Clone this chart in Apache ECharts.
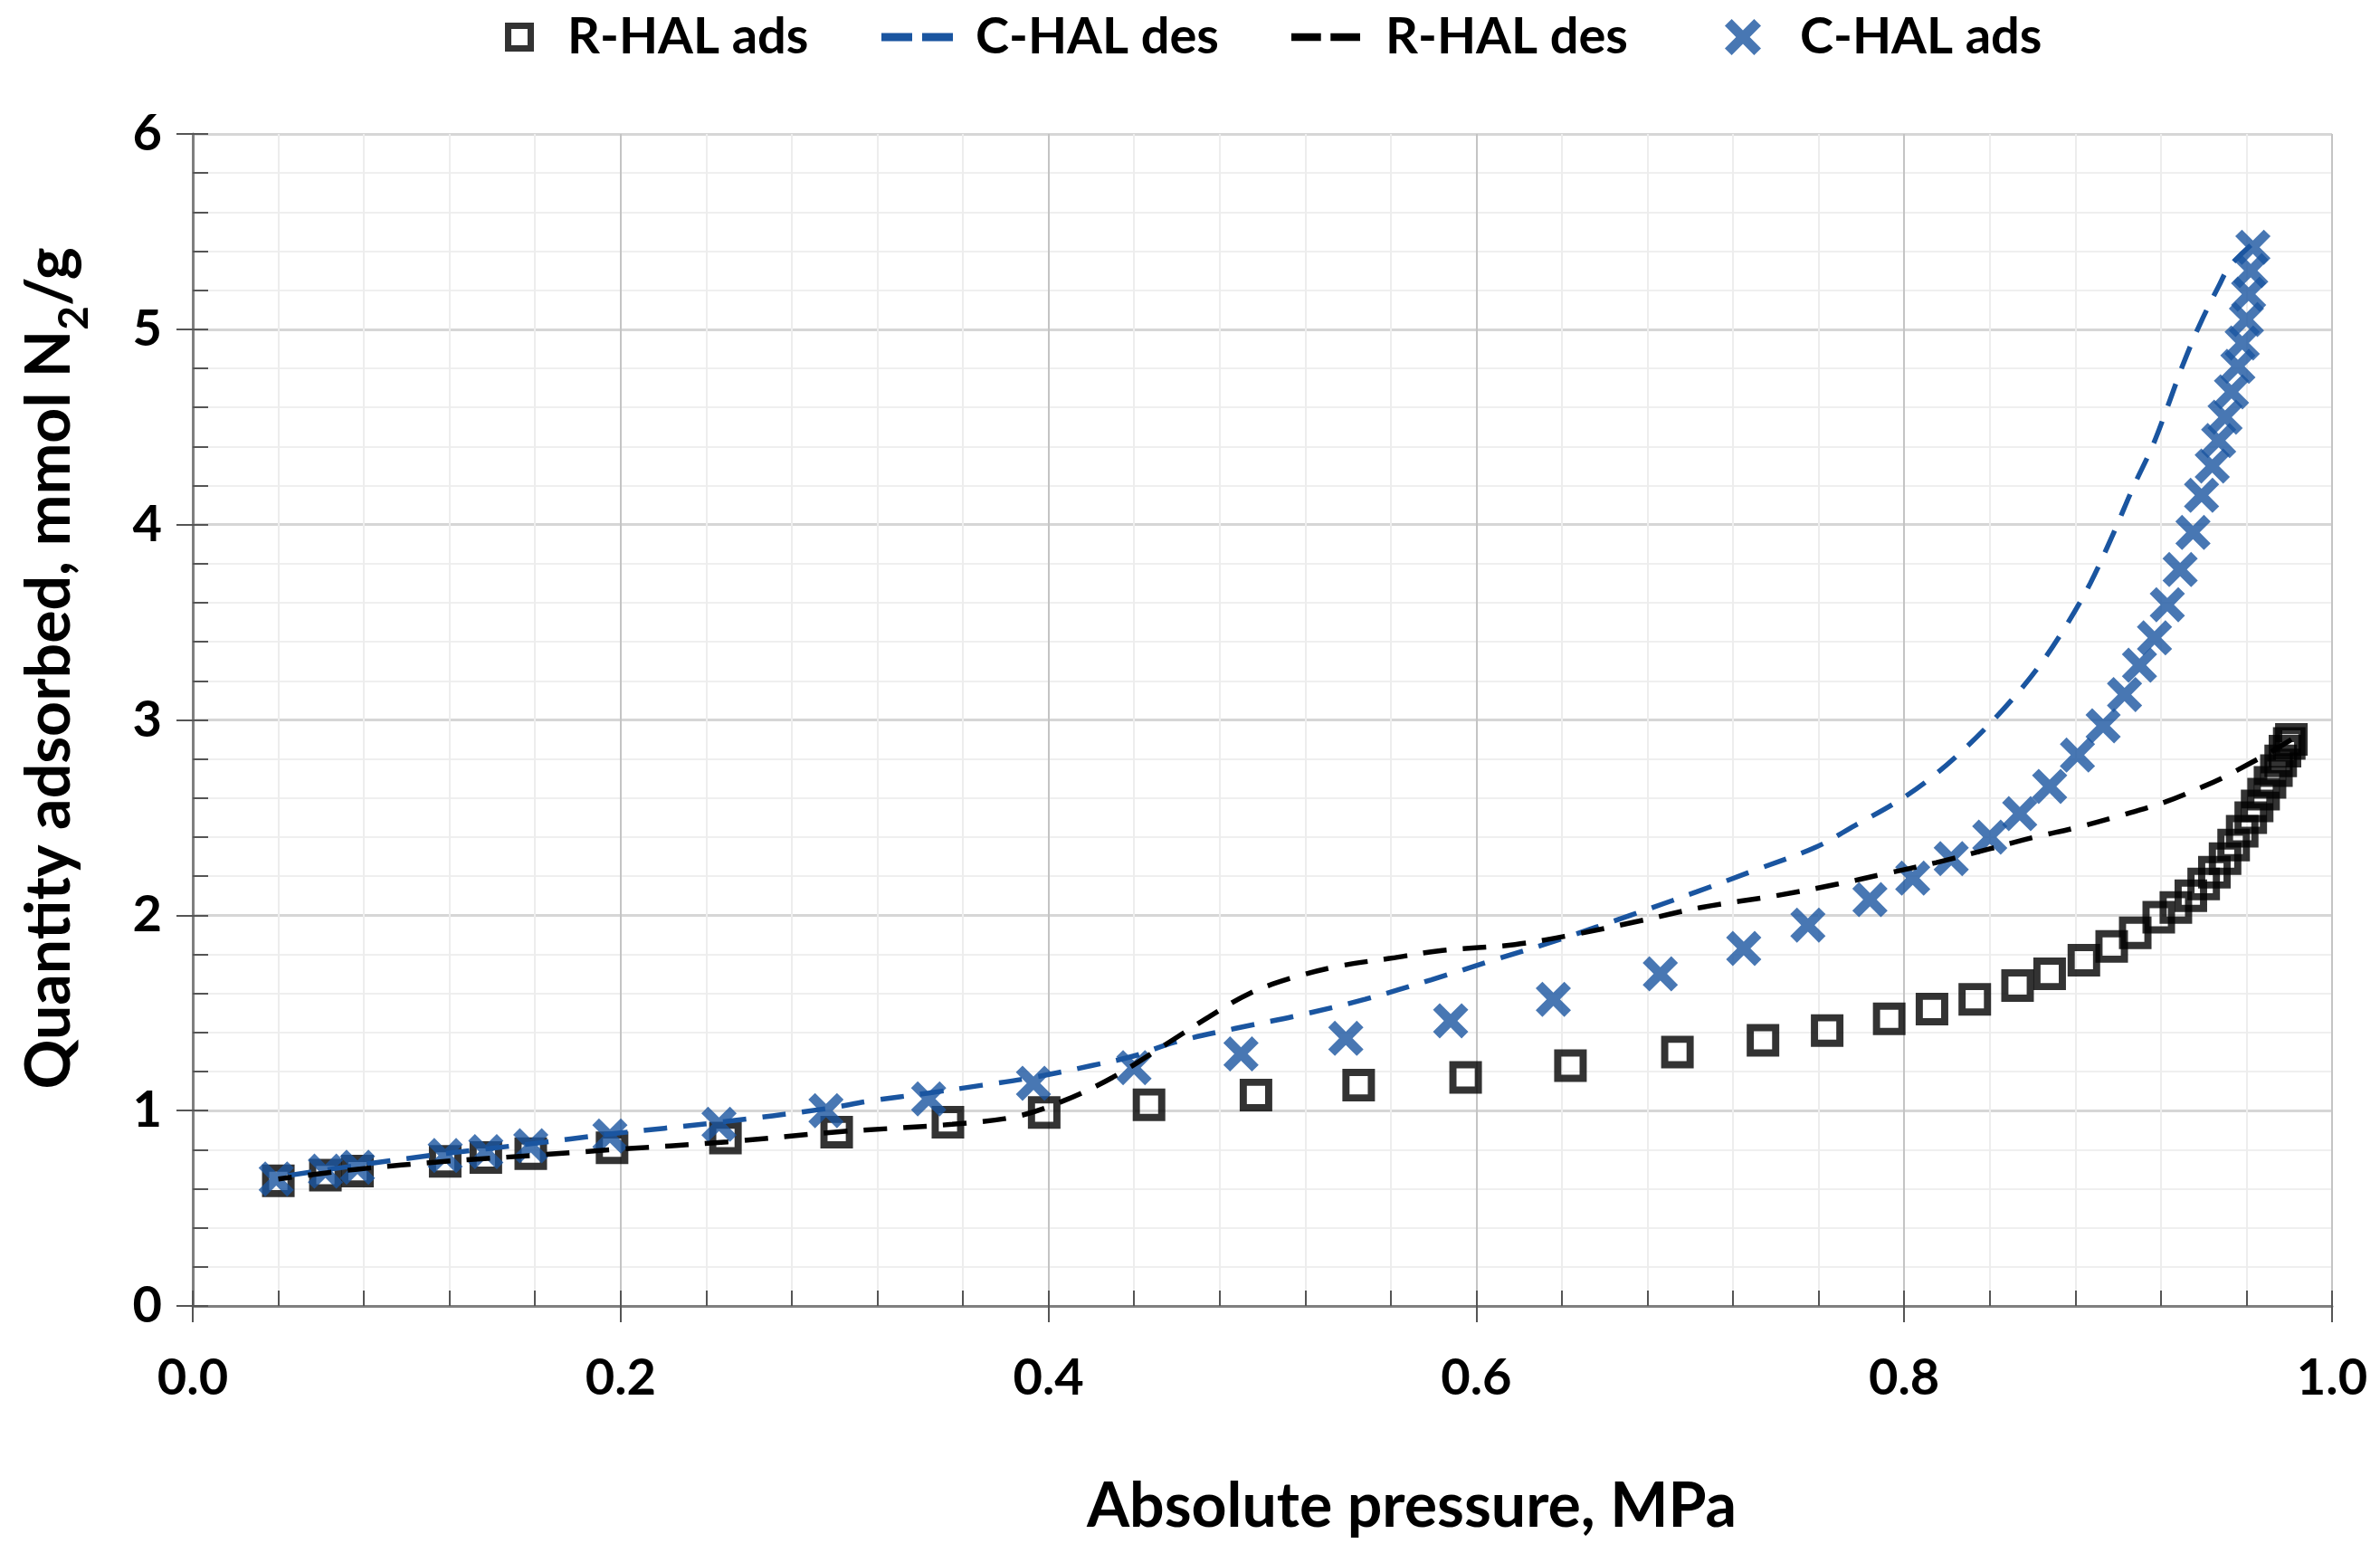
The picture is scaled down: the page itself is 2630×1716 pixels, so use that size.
<!DOCTYPE html>
<html>
<head>
<meta charset="utf-8">
<script src="https://cdn.jsdelivr.net/npm/echarts@6/dist/echarts.min.js"></script>
<style>
html,body{margin:0;padding:0;background:#fff;}
#chart{width:2630px;height:1716px;}
</style>
</head>
<body>
<div id="chart"></div>
<script>
const seriesNames = ['R-HAL ads', 'C-HAL des', 'R-HAL des', 'C-HAL ads'];
const xTicks = { min: 0, max: 1, interval: 0.2 };
const yTicks = { min: 0, max: 6, interval: 1 };

const rHalAds = [[0.040,0.64],[0.062,0.67],[0.077,0.69],[0.118,0.74],[0.137,0.76],[0.158,0.78],[0.196,0.81],[0.249,0.86],[0.301,0.89],[0.353,0.94],[0.398,0.99],[0.447,1.03],[0.497,1.08],[0.545,1.13],[0.595,1.17],[0.644,1.23],[0.694,1.30],[0.734,1.36],[0.764,1.41],[0.793,1.47],[0.813,1.52],[0.833,1.57],[0.853,1.64],[0.868,1.70],[0.884,1.77],[0.897,1.84],[0.908,1.91],[0.919,1.99],[0.927,2.04],[0.934,2.10],[0.940,2.16],[0.945,2.22],[0.950,2.29],[0.954,2.36],[0.958,2.43],[0.962,2.50],[0.965,2.56],[0.968,2.62],[0.971,2.68],[0.974,2.74],[0.976,2.79],[0.978,2.84],[0.980,2.88],[0.981,2.90]];

const cHalAds = [[0.039,0.65],[0.062,0.69],[0.077,0.71],[0.118,0.77],[0.137,0.79],[0.158,0.82],[0.195,0.87],[0.246,0.93],[0.296,1.00],[0.344,1.06],[0.393,1.14],[0.440,1.22],[0.490,1.29],[0.539,1.37],[0.588,1.46],[0.636,1.57],[0.686,1.70],[0.725,1.83],[0.755,1.95],[0.784,2.08],[0.804,2.19],[0.822,2.29],[0.840,2.40],[0.854,2.52],[0.868,2.66],[0.881,2.82],[0.893,2.97],[0.903,3.13],[0.910,3.28],[0.917,3.42],[0.923,3.59],[0.929,3.77],[0.935,3.96],[0.939,4.15],[0.944,4.30],[0.947,4.43],[0.950,4.55],[0.953,4.68],[0.956,4.81],[0.958,4.93],[0.960,5.05],[0.961,5.18],[0.962,5.30],[0.963,5.42]];

const cHalDes = [[0.962,5.43],[0.952,5.32],[0.947,5.22],[0.938,5.02],[0.930,4.81],[0.923,4.60],[0.916,4.40],[0.907,4.19],[0.898,3.96],[0.887,3.70],[0.875,3.47],[0.862,3.26],[0.846,3.05],[0.828,2.85],[0.811,2.69],[0.795,2.57],[0.777,2.46],[0.759,2.35],[0.730,2.23],[0.703,2.12],[0.672,2.00],[0.640,1.88],[0.608,1.77],[0.579,1.67],[0.548,1.57],[0.518,1.49],[0.487,1.42],[0.459,1.35],[0.440,1.28],[0.420,1.23],[0.393,1.17],[0.369,1.13],[0.344,1.09],[0.317,1.05],[0.296,1.01],[0.246,0.94],[0.195,0.88],[0.158,0.83],[0.118,0.78],[0.077,0.72],[0.040,0.66]];

const rHalDes = [[0.981,2.90],[0.972,2.84],[0.962,2.78],[0.950,2.71],[0.940,2.66],[0.922,2.58],[0.901,2.51],[0.881,2.45],[0.861,2.40],[0.840,2.34],[0.815,2.27],[0.790,2.21],[0.769,2.16],[0.740,2.10],[0.705,2.04],[0.676,1.97],[0.645,1.90],[0.618,1.85],[0.584,1.82],[0.560,1.78],[0.536,1.74],[0.514,1.68],[0.494,1.60],[0.475,1.48],[0.455,1.34],[0.430,1.17],[0.407,1.05],[0.385,0.97],[0.355,0.93],[0.300,0.89],[0.250,0.84],[0.196,0.80],[0.158,0.77],[0.118,0.74],[0.077,0.70],[0.040,0.65]];

const BLUE = '#1a55a0';
const FONT = 'Lato';
const crossPath = 'path://M0,19 L19,0 L50,31 L81,0 L100,19 L69,50 L100,81 L81,100 L50,69 L19,100 L0,81 L31,50 Z';
const squarePath = 'path://M0,0 L100,0 L100,100 L0,100 Z M22,22 L22,78 L78,78 L78,22 Z';
const dashPath = 'path://M0,0 L34,0 L34,9 L0,9 Z M45,0 L79,0 L79,9 L45,9 Z';

const chart = echarts.init(document.getElementById('chart'), null, {renderer: 'canvas'});

const baseX = {type: 'value', min: xTicks.min, max: xTicks.max, interval: xTicks.interval, position: 'bottom'};
const baseY = {type: 'value', min: yTicks.min, max: yTicks.max, interval: yTicks.interval, position: 'left'};
const legendText = {fontFamily: FONT, fontWeight: 'bold', fontSize: 56, color: '#000'};

function legendItem(name, icon, left, w, h, pad) {
  return {
    left: left, top: 8, itemWidth: w, itemHeight: h, orient: 'horizontal',
    selectedMode: false,
    textStyle: Object.assign({}, legendText, {padding: [0, 0, 0, pad]}),
    data: [{name: name, icon: icon}]
  };
}

chart.setOption({
  animation: false,
  backgroundColor: '#ffffff',
  textStyle: {fontFamily: FONT},
  grid: {left: 213, right: 53, top: 148, bottom: 273},
  legend: [
    legendItem(seriesNames[0], squarePath, 553, 32, 32, 32),
    legendItem(seriesNames[1], dashPath, 969, 79, 34, 20),
    legendItem(seriesNames[2], dashPath, 1422, 76, 34, 23),
    legendItem(seriesNames[3], crossPath, 1901, 40, 40, 38)
  ],
  xAxis: [
    Object.assign({}, baseX, {
      name: 'Absolute pressure, MPa',
      nameLocation: 'middle', nameGap: 188, nameMoveOverlap: false,
      nameTextStyle: {fontFamily: FONT, fontWeight: 'bold', fontSize: 68, color: '#000', padding: [0, 0, 0, 330]},
      axisLine: {show: true, lineStyle: {color: '#7f7f7f', width: 3}},
      axisTick: {show: true, inside: false, length: 18, lineStyle: {color: '#555', width: 2}},
      axisLabel: {margin: 52, fontFamily: FONT, fontWeight: 'bold', fontSize: 56, color: '#000', formatter: v => v.toFixed(1)},
      splitLine: {show: true, lineStyle: {color: '#c4c4c4', width: 2}},
      minorSplitLine: {show: true, lineStyle: {color: '#ededed', width: 2}},
      minorTick: {show: false, splitNumber: 5}
    }),
    Object.assign({}, baseX, {
      axisLine: {show: false},
      axisLabel: {show: false},
      splitLine: {show: false},
      axisTick: {show: true, inside: true, length: 17, lineStyle: {color: '#555', width: 2}},
      minorTick: {show: true, splitNumber: 5, length: 17, lineStyle: {color: '#555', width: 2}}
    })
  ],
  yAxis: [
    Object.assign({}, baseY, {
      name: '{a|Quantity adsorbed, mmol N}{s|2}{a|/g}',
      nameLocation: 'middle', nameGap: 124, nameMoveOverlap: false,
      nameTextStyle: {
        fontFamily: FONT, fontWeight: 'bold', fontSize: 68, color: '#000', padding: [0, 0, 0, 114],
        rich: {
          a: {fontFamily: FONT, fontWeight: 'bold', fontSize: 68, color: '#000'},
          s: {fontFamily: FONT, fontWeight: 'bold', fontSize: 46, color: '#000', verticalAlign: 'bottom', padding: [0, 0, -16, 0]}
        }
      },
      axisLine: {show: true, lineStyle: {color: '#7f7f7f', width: 3}},
      axisTick: {show: true, inside: false, length: 18, lineStyle: {color: '#555', width: 2}},
      axisLabel: {margin: 34, fontFamily: FONT, fontWeight: 'bold', fontSize: 56, color: '#000'},
      splitLine: {show: true, lineStyle: {color: '#d6d6d6', width: 3}},
      minorSplitLine: {show: true, lineStyle: {color: '#efefef', width: 2}},
      minorTick: {show: false, splitNumber: 5}
    }),
    Object.assign({}, baseY, {
      axisLine: {show: false},
      axisLabel: {show: false},
      splitLine: {show: false},
      axisTick: {show: true, inside: true, length: 17, lineStyle: {color: '#555', width: 2}},
      minorTick: {show: true, splitNumber: 5, length: 17, lineStyle: {color: '#555', width: 2}}
    })
  ],
  series: [
    {
      name: seriesNames[0], type: 'scatter', data: rHalAds,
      symbol: squarePath, symbolSize: 36, symbolKeepAspect: true,
      itemStyle: {color: '#000'}
    },
    {
      name: seriesNames[1], type: 'line', data: cHalDes, smooth: 0.35,
      showSymbol: false, symbol: 'none',
      lineStyle: {color: BLUE, width: 5.5, type: [26, 18]},
      itemStyle: {color: BLUE}
    },
    {
      name: seriesNames[2], type: 'line', data: rHalDes, smooth: 0.35,
      showSymbol: false, symbol: 'none',
      lineStyle: {color: '#000', width: 5.5, type: [26, 18]},
      itemStyle: {color: '#000'}
    },
    {
      name: seriesNames[3], type: 'scatter', data: cHalAds,
      symbol: crossPath, symbolSize: 39, symbolKeepAspect: true,
      itemStyle: {color: BLUE}
    }
  ]
});
</script>
</body>
</html>
